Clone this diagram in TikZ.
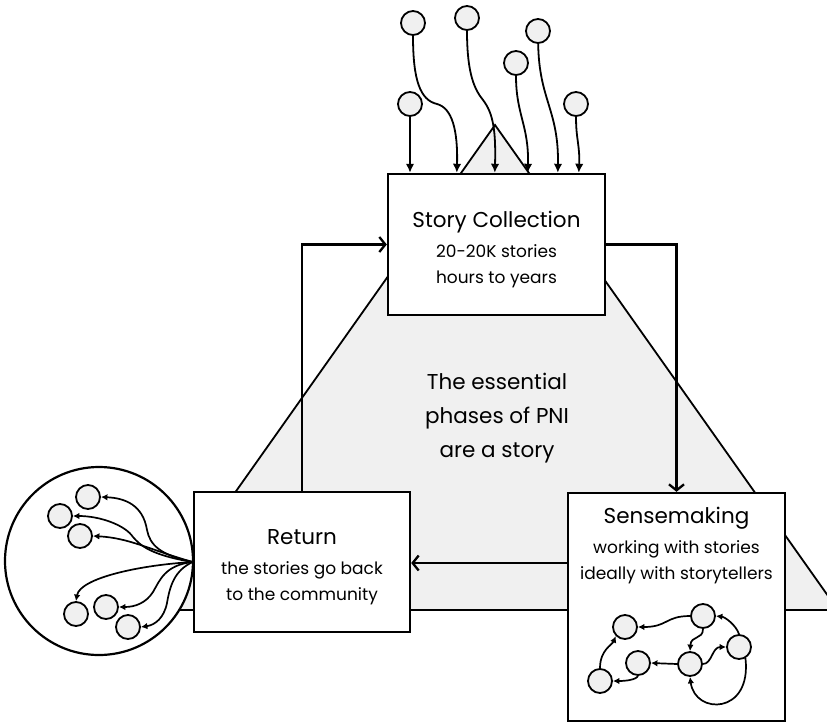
\documentclass[tikz,border=0pt]{standalone}
\usepackage{fontspec}
\setmainfont{Poppins}
\usetikzlibrary{arrows.meta,calc}
\definecolor{panel}{HTML}{F0F0F0}
\begin{document}
\begin{tikzpicture}[x=1pt,y=-1pt,
  phase/.style={draw=black,fill=white,line width=2.4pt,inner sep=0pt},
  phasetext/.style={align=center,inner sep=0pt,font=\fontsize{17}{26}\selectfont},
  dot/.style={circle,draw=black,fill=panel,line width=1.8pt,minimum size=24pt,inner sep=0pt},
  flow/.style={line width=2.3pt,-{Straight Barb[length=6pt,width=15pt]}},
  feed/.style={line width=1.8pt,-{Latex[length=9pt,width=8.5pt]}},
  link/.style={line width=1.7pt,-{Latex[length=6.5pt,width=6.5pt]}}]
\useasboundingbox (0,0) rectangle (827,723);
\clip (0,0) rectangle (827,723);

% background triangle
\draw[fill=panel,line width=1.8pt] (495,125) -- (838,610) -- (152,610) -- cycle;

% phase boxes and their texts
\node[phase,minimum width=217pt,minimum height=141pt] (collect) at (496.5,244.5) {};
\node[phasetext] (collecttext) at (496.5,250)
  {{\fontsize{21.5}{26}\selectfont Story Collection}\\[4pt]20-20K stories\\hours to years};
\node[phase,minimum width=216pt,minimum height=140pt] (ret) at (302,562) {};
\node[phasetext] (rettext) at (302,567)
  {{\fontsize{21.5}{26}\selectfont Return}\\[4pt]the stories go back\\to the community};
\node[phase,minimum width=217pt,minimum height=228pt] (sense) at (676.5,607) {};
\node[phasetext] (sensetext) at (676.5,546)
  {{\fontsize{21.5}{26}\selectfont Sensemaking}\\[4pt]working with stories\\ideally with storytellers};

% centre caption
\node[align=center,font=\fontsize{21.5}{34}\selectfont] (caption) at (497,418)
  {The essential\\phases of PNI\\are a story};

% the cycle of phases
\coordinate (cyc) at (0,563);
\draw[flow] (ret.north) |- (collect.west);
\draw[flow] (collect.east) -| (sense.north);
\draw[flow] (sense.west |- cyc) -- (ret.east |- cyc);

% stories flowing in
\node[dot] (t1) at (413,23) {};
\node[dot] (t2) at (467,18) {};
\node[dot] (t3) at (538,31) {};
\node[dot] (t4) at (516,63) {};
\node[dot] (t5) at (410,104) {};
\node[dot] (t6) at (576,104) {};
\draw[feed] (t5) -- (t5 |- collect.north);
\draw[feed] (t1) .. controls (413,80) and (420,100) .. (437,104)
  .. controls (452,108) and (458,130) .. ($(collect.north west)+(70,0)$);
\draw[feed] (t2) .. controls (467,75) and (475,90) .. (483,100)
  .. controls (493,113) and (496,130) .. ($(collect.north west)+(108,0)$);
\draw[feed] (t4) .. controls (516,115) and (529,125) .. ($(collect.north west)+(141,0)$);
\draw[feed] (t3) .. controls (539,100) and (559,110) .. ($(collect.north west)+(171,0)$);
\draw[feed] (t6) .. controls (576,140) and (580,145) .. ($(collect.north west)+(192,0)$);

% community receiving the stories
\node[circle,draw=black,fill=white,line width=2.2pt,minimum size=188pt,inner sep=0pt] (comm) at (99,561) {};
\node[dot] (ca) at (88,497) {};
\node[dot] (cb) at (60,516) {};
\node[dot] (cc) at (80,536) {};
\node[dot] (cd) at (76,614) {};
\node[dot] (ce) at (106,607) {};
\node[dot] (cf) at (128,627) {};
\draw[link] (ret.west) .. controls (160,555) and (150,545) .. (147,530)
  .. controls (143,505) and (125,498) .. (ca.east);
\draw[link] (ret.west) .. controls (150,555) and (140,545) .. (133,537)
  .. controls (125,525) and (100,516) .. (cb.east);
\draw[link] (ret.west) .. controls (150,550) and (130,538) .. (cc.east);
\draw[link] (ret.west) .. controls (140,565) and (80,578) .. (cd.north);
\draw[link] (ret.west) .. controls (165,565) and (160,580) .. (153,592)
  .. controls (146,603) and (135,607) .. (ce.east);
\draw[link] (ret.west) .. controls (175,570) and (170,585) .. (167,603)
  .. controls (164,618) and (155,625) .. (cf.east);

% sensemaking network
\node[dot] (A) at (625,627) {};
\node[dot] (B) at (703,616) {};
\node[dot] (C) at (739,647) {};
\node[dot] (D) at (690,664) {};
\node[dot] (E) at (638,663) {};
\node[dot] (F) at (600,681) {};
\draw[link] (B.west) .. controls (665,616) and (668,627) .. (A.east);
\draw[link] (B.south) .. controls (703,640) and (691,635) .. (D.north);
\draw[link] (C.north) .. controls (736,625) and (725,617) .. (B.east);
\draw[link] (D.east) .. controls (712,664) and (712,647) .. (C.west);
\draw[link] (C.-60) .. controls (752,715) and (695,715) .. (D.south);
\draw[link] (D.west) -- (E.east);
\draw[link] (E.south) .. controls (636,680) and (625,681) .. (F.east);
\draw[link] (F.north) .. controls (600,650) and (612,645) .. (A.south west);
\end{tikzpicture}
\end{document}
